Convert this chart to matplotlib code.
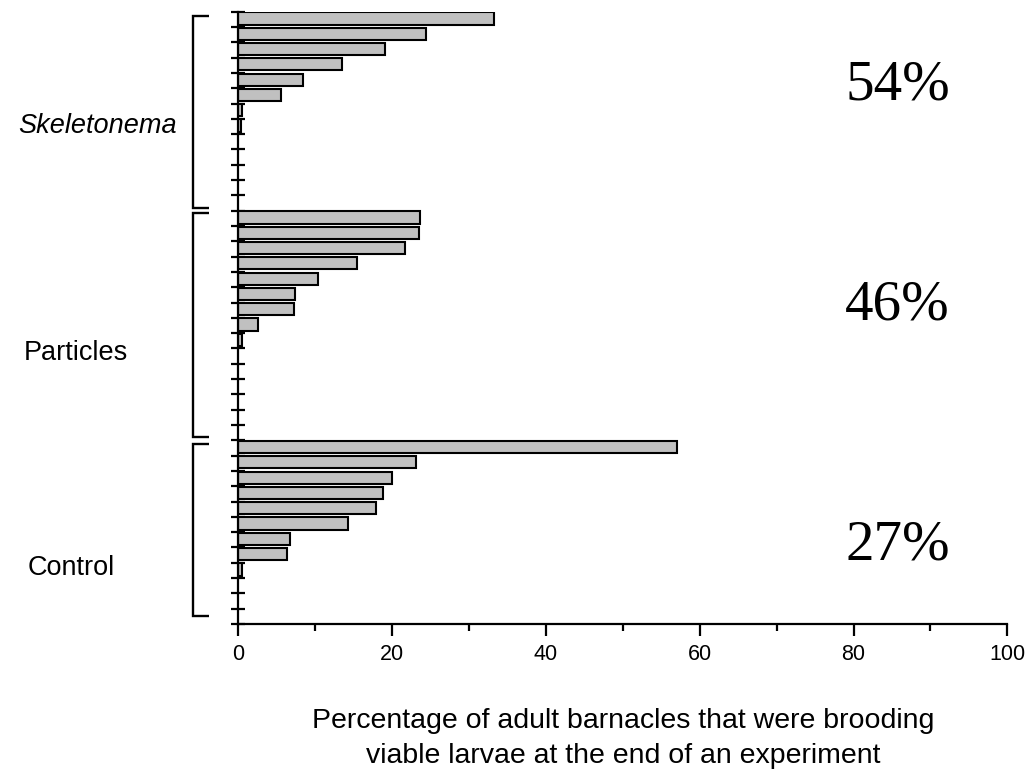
import matplotlib
matplotlib.use("Agg")
import matplotlib.pyplot as plt
import matplotlib.transforms as mtransforms
from matplotlib.ticker import MultipleLocator

plt.rcParams['font.family'] = ['Liberation Sans', 'DejaVu Sans']

# Percentage of brooding adults per replicate, sorted within each treatment
skeletonema = [33.3, 24.4, 19.1, 13.5, 8.4, 5.5, 0.45, 0.3, 0, 0, 0, 0, 0]
particles = [23.6, 23.5, 21.7, 15.4, 10.3, 7.4, 7.2, 2.5, 0.5, 0, 0, 0, 0, 0, 0]
control = [57.1, 23.1, 20.0, 18.8, 17.9, 14.3, 6.7, 6.3, 0.5, 0, 0, 0]
groups = ["Skeletonema", "Particles", "Control"]
group_totals = ["54%", "46%", "27%"]
x_ticks = [0, 20, 40, 60, 80, 100]

W, H = 1033, 775
fig = plt.figure(figsize=(W / 100, H / 100), dpi=100)


def fx(px):
    return px / W


def fy(py):
    return 1 - py / H


ax = fig.add_axes([fx(238.3), fy(624), fx(1007.3) - fx(238.3), fy(11.7) - fy(624)])

series = [skeletonema, particles, control]
n_slots = sum(len(s) for s in series)

start = 0
for vals in series:
    for i, v in enumerate(vals):
        if v > 0:
            ax.barh(start + i + 0.04, v, height=0.8, align='edge',
                    color='#c0c0c0', edgecolor='black', linewidth=1.5, zorder=2)
    start += len(vals)

ax.set_xlim(0, 100)
ax.set_ylim(n_slots, 0)

for side in ('top', 'right'):
    ax.spines[side].set_visible(False)
for side in ('left', 'bottom'):
    ax.spines[side].set_linewidth(1.6)
    ax.spines[side].set_zorder(3)

ax.set_yticks(range(n_slots + 1))
ax.set_yticklabels([])
ax.tick_params(axis='y', direction='inout', length=9.5, width=1.6)

ax.set_xticks(x_ticks)
ax.xaxis.set_minor_locator(MultipleLocator(10))
ax.tick_params(axis='x', which='major', direction='out', length=8.5, width=1.6,
               labelsize=15.5, pad=6)
ax.tick_params(axis='x', which='minor', direction='out', length=5, width=1.6)

# Brackets grouping the replicates of each treatment
trans = mtransforms.blended_transform_factory(ax.transAxes, ax.transData)
bx0, bx1 = -0.0585, -0.0377
bracket_spans = [(0.27, 12.84), (13.16, 27.81), (28.23, 39.49)]
for y0, y1 in bracket_spans:
    ax.plot([bx1, bx0, bx0, bx1], [y0, y0, y1, y1], color='black', lw=1.7,
            transform=trans, clip_on=False, solid_capstyle='butt',
            solid_joinstyle='miter')

# Treatment names
label_pos = [(98, 133.3), (75.5, 360), (71.5, 575)]
for name, (px, py) in zip(groups, label_pos):
    fig.text(fx(px), fy(py), name, ha='center', va='baseline', fontsize=19.5,
             style='italic' if name == "Skeletonema" else 'normal')

# Overall share of brooding adults per treatment
pct_pos = [99.3, 319.5, 559.5]
for txt, py in zip(group_totals, pct_pos):
    fig.text(fx(897.5), fy(py), txt, ha='center', va='baseline', fontsize=41,
             family=['Liberation Serif', 'DejaVu Serif'])

fig.text(fx(623), fy(728), "Percentage of adult barnacles that were brooding",
         ha='center', va='baseline', fontsize=20.5)
fig.text(fx(623), fy(763), "viable larvae at the end of an experiment",
         ha='center', va='baseline', fontsize=20.5)

fig.savefig("out.png", dpi=100)
